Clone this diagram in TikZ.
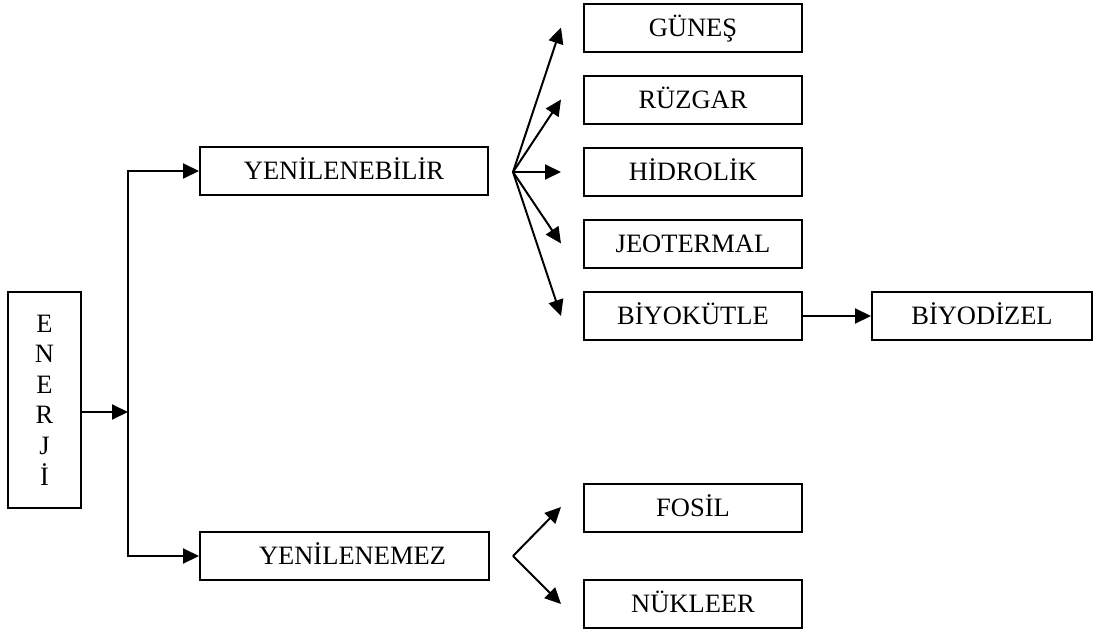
\documentclass[tikz,border=0pt]{standalone}
\usepackage{fontspec}
\setmainfont{Liberation Serif}
\usetikzlibrary{arrows.meta}
\begin{document}
\begin{tikzpicture}[x=1pt,y=-1pt,
  box/.style={draw, line width=2pt, inner sep=0pt, font=\fontsize{26.5}{30.6}\selectfont, text height=17pt, text depth=0pt},
  rbox/.style={box, minimum width=218pt, minimum height=48pt},
  conn/.style={line width=2pt, -{Triangle[length=16pt,width=15pt]}}
]
\useasboundingbox (0,0) rectangle (1096,629);
% main boxes
\node[draw, line width=2pt, minimum width=73pt, minimum height=216pt, inner sep=0pt, align=center,
  font=\fontsize{26.5}{30.6}\selectfont] (en) at (44.5,400) {E\\N\\E\\R\\J\\İ};
\node[box, minimum width=288pt, minimum height=48pt] (yb) at (344,171) {YENİLENEBİLİR};
\node[box, minimum width=289pt, minimum height=48pt] (ye) at (344.5,556) {\hspace*{16pt}YENİLENEMEZ};
% right boxes
\node[rbox] (g) at (693,27.5) {GÜNEŞ};
\node[rbox] (r) at (693,99.5) {RÜZGAR};
\node[rbox] (h) at (693,172) {HİDROLİK};
\node[rbox] (j) at (693,243.5) {JEOTERMAL};
\node[rbox] (b) at (693,316) {BİYOKÜTLE};
\node[box, minimum width=220pt, minimum height=48pt] (bd) at (982,316) {BİYODİZEL};
\node[rbox] (fo) at (693,507.5) {FOSİL};
\node[rbox] (nu) at (693,604) {NÜKLEER};
% junctions
\coordinate (jn) at (128,412);
\coordinate (f1) at (513,172);
\coordinate (f2) at (513,556);
% connectors
\draw[conn] ([yshift=-12pt]en.east) -- (jn);
\draw[conn] (jn) |- (yb.west);
\draw[conn] (jn) |- (ye.west);
\foreach \t in {g,r,h,j,b}{
  \draw[conn] (f1) -- ([xshift=-22pt]\t.west);
}
\draw[conn] (f2) -- ([xshift=-22pt,yshift=0.5pt]fo.west);
\draw[conn] (f2) -- ([xshift=-22pt]nu.west);
\draw[conn] (b.east) -- (bd.west);
\end{tikzpicture}
\end{document}
